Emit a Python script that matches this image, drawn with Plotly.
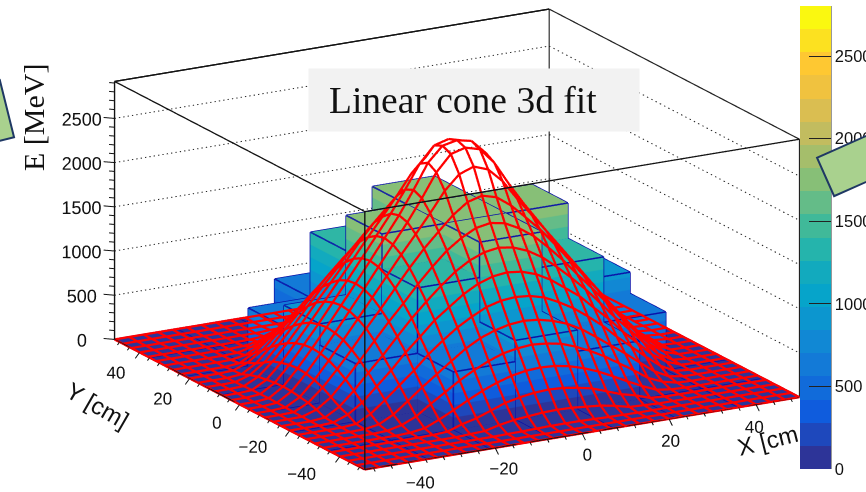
import math
import numpy as np
import plotly.graph_objects as go

W, H = 866, 492

# ---- data -----------------------------------------------------------------
BIN_EDGES = [-50, -35.7, -21.4, -7.14, 7.14, 21.4, 35.7, 50]
BAR_HEIGHTS = [
    [0, 0, 0, 0, 0, 0, 0],
    [0, 0, 660, 900, 660, 0, 0],
    [0, 660, 1400, 1800, 1400, 660, 0],
    [0, 900, 1800, 1800, 1800, 900, 0],
    [0, 660, 1400, 1800, 1400, 660, 0],
    [0, 0, 660, 900, 660, 0, 0],
    [0, 0, 0, 0, 0, 0, 0],
]
# fit surface values for one quadrant, 3.33 cm steps from the centre outwards
FIT_QUADRANT = [
    [2580, 2545, 2380, 2100, 1840, 1610, 1380, 1150, 930, 710, 500, 300, 120, 15, 0, 0],
    [2545, 2500, 2320, 2055, 1810, 1585, 1360, 1135, 915, 695, 490, 290, 115, 14, 0, 0],
    [2380, 2320, 2160, 1935, 1725, 1520, 1305, 1090, 875, 665, 460, 265, 100, 10, 0, 0],
    [2100, 2055, 1935, 1775, 1610, 1420, 1215, 1010, 815, 605, 410, 230, 85, 5, 0, 0],
    [1840, 1810, 1725, 1610, 1455, 1285, 1095, 915, 725, 530, 345, 170, 55, 3, 0, 0],
    [1610, 1585, 1520, 1420, 1285, 1135, 975, 795, 610, 440, 265, 110, 15, 0, 0, 0],
    [1380, 1360, 1305, 1215, 1095, 975, 815, 665, 490, 335, 180, 70, 8, 0, 0, 0],
    [1150, 1135, 1090, 1010, 915, 795, 665, 510, 370, 230, 100, 14, 0, 0, 0, 0],
    [930, 915, 875, 815, 725, 610, 490, 370, 240, 115, 30, 3, 0, 0, 0, 0],
    [710, 695, 665, 605, 530, 440, 335, 230, 115, 45, 7, 0, 0, 0, 0, 0],
    [500, 490, 460, 410, 345, 265, 180, 100, 30, 7, 0, 0, 0, 0, 0, 0],
    [300, 290, 265, 230, 170, 110, 70, 14, 3, 0, 0, 0, 0, 0, 0, 0],
    [120, 115, 100, 85, 55, 15, 8, 0, 0, 0, 0, 0, 0, 0, 0, 0],
    [15, 14, 10, 5, 3, 0, 0, 0, 0, 0, 0, 0, 0, 0, 0, 0],
    [0] * 16, [0] * 16,
]
BAND_COLOURS = ["#2D3498", "#1E48BC", "#0F5CDD", "#116BDA", "#137AD7", "#1188D4", "#0C96CF", "#06A4CA",
                "#12AABE", "#25B4AC", "#40B999", "#64BC88", "#87BF77", "#A5BE6B", "#C2BC5F", "#DABE51",
                "#F0C23F", "#FEC832", "#FCE120", "#FAF810"]
Z_TICKS = [0, 500, 1000, 1500, 2000, 2500]
XY_TICKS = [-40, -20, 0, 20, 40]
XY_LABELS = ["\u221240", "\u221220", "0", "20", "40"]
XY_MINOR = [-48, -44, -36, -32, -28, -24, -16, -12, -8, -4, 4, 8, 12, 16, 24, 28, 32, 36, 44, 48]
Z_MINOR = [100, 200, 300, 400, 600, 700, 800, 900, 1100, 1200, 1300, 1400, 1600, 1700, 1800, 1900,
           2100, 2200, 2300, 2400, 2600, 2700, 2800, 2900]
Y_LABEL_SHIFT = [8.8, 8.5, 5.3, 6.2, 5.5]
Y_LABEL_DROP = [122, 113, 161, 176, 182]
Z_MAX = 2918
COLOR_MAX = 2803
XY_MIN, XY_MAX = -50, 50

# ---- view -------------------------------------------------------------------
PHI = math.radians(29.5)
THETA = math.radians(16.8)
FIT = 479 / 492
ASPECT = dict(x=2.085 * FIT, y=2.122 * FIT, z=1.127 * FIT)
EYE_R = 5
eye = dict(x=-math.sin(PHI) * math.cos(THETA) * EYE_R,
           y=-math.cos(PHI) * math.cos(THETA) * EYE_R,
           z=math.sin(THETA) * EYE_R)
camera = dict(eye=eye, up=dict(x=0, y=0, z=1), center=dict(x=0, y=0, z=-0.0284),
              projection=dict(type="orthographic"))
domain = dict(x=[48 / W, 1], y=[0, 1])

# ---- bars -------------------------------------------------------------------
vx, vy, vz, ti, tj, tk = [], [], [], [], [], []
ex, ey, ez = [], [], []
def seg(a, b, xs=ex, ys=ey, zs=ez):
    xs += [a[0], b[0], None]; ys += [a[1], b[1], None]; zs += [a[2], b[2], None]
for iy, row in enumerate(BAR_HEIGHTS):
    for ix, h in enumerate(row):
        x0, x1 = BIN_EDGES[ix], BIN_EDGES[ix + 1]
        y0, y1 = BIN_EDGES[iy], BIN_EDGES[iy + 1]
        n = len(vx)
        for z in (0, h):
            for (x, y) in ((x0, y0), (x1, y0), (x1, y1), (x0, y1)):
                vx.append(x); vy.append(y); vz.append(z)
        faces = [(4, 5, 6), (4, 6, 7), (0, 1, 5), (0, 5, 4), (1, 2, 6), (1, 6, 5),
                 (2, 3, 7), (2, 7, 6), (3, 0, 4), (3, 4, 7)]
        for a, b, c in faces:
            ti.append(n + a); tj.append(n + b); tk.append(n + c)
        c = [(x0, y0), (x1, y0), (x1, y1), (x0, y1)]
        for m in range(4):
            p, q = c[m], c[(m + 1) % 4]
            seg((p[0], p[1], h), (q[0], q[1], h))
            if h > 0:
                seg((p[0], p[1], 0), (p[0], p[1], h))

n_bands = len(BAND_COLOURS)
colorscale = []
for i, col in enumerate(BAND_COLOURS):
    colorscale += [[i / n_bands, col], [(i + 1) / n_bands, col]]

bars = go.Mesh3d(
    x=vx, y=vy, z=vz, i=ti, j=tj, k=tk, intensity=vz, intensitymode="vertex",
    colorscale=colorscale, cmin=0, cmax=COLOR_MAX, flatshading=True,
    lighting=dict(ambient=1, diffuse=0, specular=0, roughness=1, fresnel=0),
    hoverinfo="skip", scene="scene",
    colorbar=dict(x=800 / W, xanchor="left", y=1 - 469 / H, yanchor="bottom",
                  len=463 / H, lenmode="fraction", thickness=31, thicknessmode="pixels",
                  xpad=0, ypad=0, outlinewidth=0, tickmode="array", tickvals=Z_TICKS,
                  ticks="inside", ticklen=22, tickcolor="#222222", tickwidth=1,
                  tickfont=dict(family="Liberation Sans", size=16.5, color="#111111")),
)
bar_edges = go.Scatter3d(x=ex, y=ey, z=ez, mode="lines", line=dict(color="#0A10A8", width=3),
                         hoverinfo="skip", showlegend=False, scene="scene")

# ---- back walls -------------------------------------------------------------
gx, gy, gz = [], [], []
DOT_LEFT = 0.3    # cm of line per dot on the long wall
GAP_LEFT = 1.0
DOT_RIGHT = 0.5   # the short wall is foreshortened
GAP_RIGHT = 1.7
for z in Z_TICKS[1:]:
    a = XY_MIN
    while a < XY_MAX:
        gx += [a, a + DOT_LEFT, None]; gy += [XY_MAX, XY_MAX, None]; gz += [z, z, None]
        a += GAP_LEFT
    a = XY_MAX
    while a > XY_MIN:
        gx += [XY_MAX, XY_MAX, None]; gy += [a, a - DOT_RIGHT, None]; gz += [z, z, None]
        a -= GAP_RIGHT
wall_grid = go.Scatter3d(x=gx, y=gy, z=gz, mode="lines", line=dict(color="#222222", width=2),
                         hoverinfo="skip", showlegend=False, scene="scene")
bx, by, bz = [], [], []
seg((XY_MIN, XY_MAX, Z_MAX), (XY_MAX, XY_MAX, Z_MAX), bx, by, bz)
seg((XY_MAX, XY_MAX, Z_MAX), (XY_MAX, XY_MIN, Z_MAX), bx, by, bz)
seg((XY_MAX, XY_MAX, 0), (XY_MAX, XY_MAX, Z_MAX), bx, by, bz)
seg((XY_MAX, XY_MIN, 0), (XY_MAX, XY_MIN, Z_MAX), bx, by, bz)
wall_box = go.Scatter3d(x=bx, y=by, z=bz, mode="lines", line=dict(color="#222222", width=2.4),
                        hoverinfo="skip", showlegend=False, scene="scene")

# ---- fit surface wireframe, hidden parts left out ------------------------------
q = np.array(FIT_QUADRANT, dtype=float)
fit = np.vstack([np.hstack([q[::-1, ::-1][:, :-1], q[::-1, :]])[:-1],
                 np.hstack([q[:, ::-1][:, :-1], q])])
grid = np.linspace(XY_MIN, XY_MAX, fit.shape[0])
step = grid[1] - grid[0]
view = np.array([eye["x"] / ASPECT["x"] * 100, eye["y"] / ASPECT["y"] * 100, eye["z"] / ASPECT["z"] * Z_MAX])
view = view / math.hypot(view[0], view[1])

def height(x, y):
    u = (x - XY_MIN) / step; v = (y - XY_MIN) / step
    i = min(int(u), fit.shape[1] - 2); j = min(int(v), fit.shape[0] - 2)
    s, t = u - i, v - j
    return (fit[j, i] * (1 - s) * (1 - t) + fit[j, i + 1] * s * (1 - t)
            + fit[j + 1, i] * (1 - s) * t + fit[j + 1, i + 1] * s * t)

def visible(x, y, z):
    d = 1.0
    while d < 150:
        px, py, pz = x + view[0] * d, y + view[1] * d, z + view[2] * d
        if px < XY_MIN or py < XY_MIN or px > XY_MAX or py > XY_MAX or pz > Z_MAX:
            return True
        if height(px, py) > pz + 10:
            return False
        d += 1.0
    return True

wx, wy, wz = [], [], []
n_grid = len(grid)
for j in range(n_grid):
    for i in range(n_grid):
        if i + 1 < n_grid:
            if visible(grid[i] + step / 2, grid[j], (fit[j, i] + fit[j, i + 1]) / 2):
                seg((grid[i], grid[j], fit[j, i]), (grid[i + 1], grid[j], fit[j, i + 1]), wx, wy, wz)
        if j + 1 < n_grid:
            if visible(grid[i], grid[j] + step / 2, (fit[j, i] + fit[j + 1, i]) / 2):
                seg((grid[i], grid[j], fit[j, i]), (grid[i], grid[j + 1], fit[j + 1, i]), wx, wy, wz)
wire = go.Scatter3d(x=wx, y=wy, z=wz, mode="lines", line=dict(color="#FF0000", width=4.5),
                    hoverinfo="skip", showlegend=False, scene="scene2")

# ---- front box and tick marks, in the overlay scene -----------------------------
fx, fy, fz = [], [], []
seg((XY_MIN, XY_MAX, Z_MAX), (XY_MIN, XY_MIN, Z_MAX), fx, fy, fz)
seg((XY_MIN, XY_MIN, Z_MAX), (XY_MAX, XY_MIN, Z_MAX), fx, fy, fz)
seg((XY_MIN, XY_MIN, 0), (XY_MIN, XY_MIN, Z_MAX), fx, fy, fz)
seg((XY_MIN, XY_MAX, 0), (XY_MIN, XY_MAX, Z_MAX), fx, fy, fz)
seg((XY_MIN, XY_MAX, Z_MAX), (XY_MAX, XY_MAX, Z_MAX), fx, fy, fz)
front_box = go.Scatter3d(x=fx, y=fy, z=fz, mode="lines", line=dict(color="#111111", width=2.6),
                         hoverinfo="skip", showlegend=False, scene="scene2")
tx, ty, tz = [], [], []
seg((XY_MIN, XY_MIN, 0), (XY_MAX, XY_MIN, 0), tx, ty, tz)
seg((XY_MIN, XY_MIN, 0), (XY_MIN, XY_MAX, 0), tx, ty, tz)
for vals, k in ((XY_TICKS, 1.0), (XY_MINOR, 0.5)):
    for v in vals:
        seg((v, XY_MIN, 0), (v, XY_MIN - 1.3 * k, -57 * k), tx, ty, tz)
        seg((XY_MIN, v, 0), (XY_MIN - 1.0 * k, v, -60 * k), tx, ty, tz)
for vals, k in ((Z_TICKS, 1.6), (Z_MINOR, 0.8)):
    for v in vals:
        seg((XY_MIN, XY_MAX, v), (XY_MIN - k, XY_MAX + k, v), tx, ty, tz)
ticks = go.Scatter3d(x=tx, y=ty, z=tz, mode="lines", line=dict(color="#111111", width=2),
                     hoverinfo="skip", showlegend=False, scene="scene2")

# ---- tick labels ---------------------------------------------------------------
Z_FONT = dict(family="Liberation Sans", size=18, color="#111111")
XY_FONT = dict(family="Liberation Sans", size=17, color="#111111")
z_labels = go.Scatter3d(x=[XY_MIN - 4.8] * len(Z_TICKS), y=[XY_MAX + 4.8] * len(Z_TICKS), z=[v - 40 for v in Z_TICKS],
                        mode="text", text=[str(v) for v in Z_TICKS], textposition="middle center",
                        textfont=Z_FONT, hoverinfo="skip", showlegend=False, scene="scene2")
x_labels = go.Scatter3d(x=[v * 0.96 + 1.15 for v in XY_TICKS], y=[XY_MIN] * len(XY_TICKS), z=[-249] * len(XY_TICKS),
                        mode="text", text=XY_LABELS, textposition="middle center",
                        textfont=XY_FONT, hoverinfo="skip", showlegend=False, scene="scene2")
y_labels = go.Scatter3d(x=[XY_MIN - s for s in Y_LABEL_SHIFT], y=XY_TICKS, z=[-d for d in Y_LABEL_DROP],
                        mode="text", text=XY_LABELS, textposition="middle center",
                        textfont=XY_FONT, hoverinfo="skip", showlegend=False, scene="scene2")

fig = go.Figure([bars, bar_edges, wall_grid, wall_box, wire, front_box, ticks, z_labels, x_labels, y_labels])

def axis(rng):
    return dict(range=rng, title=dict(text=""), ticks="", showticklabels=False, showgrid=False, zeroline=False,
                showbackground=False, showline=False, showspikes=False)

hidden = dict(visible=False, showspikes=False)
K = 1.2
ZPAD = Z_MAX * (K - 1) / 2
fig.update_layout(
    width=W, height=H, margin=dict(l=0, r=0, t=0, b=0, autoexpand=False), paper_bgcolor="white", showlegend=False,
    scene=dict(domain=domain, camera=camera, aspectmode="manual", aspectratio=ASPECT,
               bgcolor="rgba(0,0,0,0)",
               xaxis=axis([XY_MIN, XY_MAX]), yaxis=axis([XY_MIN, XY_MAX]), zaxis=axis([0, Z_MAX])),
    scene2=dict(domain=domain, camera=camera, aspectmode="manual",
                aspectratio=dict(x=ASPECT["x"] * K, y=ASPECT["y"] * K, z=ASPECT["z"] * K),
                bgcolor="rgba(0,0,0,0)",
                xaxis=dict(hidden, range=[XY_MIN * K, XY_MAX * K]),
                yaxis=dict(hidden, range=[XY_MIN * K, XY_MAX * K]),
                zaxis=dict(hidden, range=[-ZPAD, Z_MAX + ZPAD])),
    shapes=[dict(type="line", xref="paper", yref="paper", x0=831 / W, x1=831 / W, y0=1 - 6 / H, y1=1 - 469 / H,
                 line=dict(color="#333333", width=1))],
    annotations=[
        dict(xref="paper", yref="paper", x=474 / W, y=1 - 100 / H, xanchor="center", yanchor="middle",
             text="&nbsp;", showarrow=False, width=328, height=60, bgcolor="#F2F2F2"),
        dict(xref="paper", yref="paper", x=462.5 / W, y=1 - 100 / H, xanchor="center", yanchor="middle",
             text="Linear cone 3d fit", showarrow=False,
             font=dict(family="Liberation Serif", size=37.5, color="#111111")),
        dict(xref="paper", yref="paper", x=33 / W, y=1 - 118 / H, xanchor="center", yanchor="middle",
             text="E [MeV]", showarrow=False, textangle=-90,
             font=dict(family="Liberation Serif", size=30, color="#111111")),
        dict(xref="paper", yref="paper", x=98 / W, y=1 - 405 / H, xanchor="center", yanchor="middle",
             text="Y [cm]", showarrow=False, textangle=30,
             font=dict(family="Liberation Sans", size=24, color="#111111")),
        dict(xref="paper", yref="paper", x=767 / W, y=1 - 440 / H, xanchor="center", yanchor="middle",
             text="X [cm", showarrow=False, textangle=-14,
             font=dict(family="Liberation Sans", size=24, color="#111111")),
        dict(xref="paper", yref="paper", x=-28.6 / W, y=1 - 117.5 / H, xanchor="center", yanchor="middle",
             text="&nbsp;", showarrow=False, textangle=-14, width=70, height=55,
             bgcolor="#A9D18E", bordercolor="#1F3864", borderwidth=2),
        dict(xref="paper", yref="paper", x=872.7 / W, y=1 - 155.7 / H, xanchor="center", yanchor="middle",
             text="&nbsp;", showarrow=False, textangle=-24, width=100, height=38,
             bgcolor="#A9D18E", bordercolor="#1F3864", borderwidth=2),
    ],
)
fig.write_html("out.html", config=dict(displayModeBar=False), post_script="document.body.style.margin='0';")
